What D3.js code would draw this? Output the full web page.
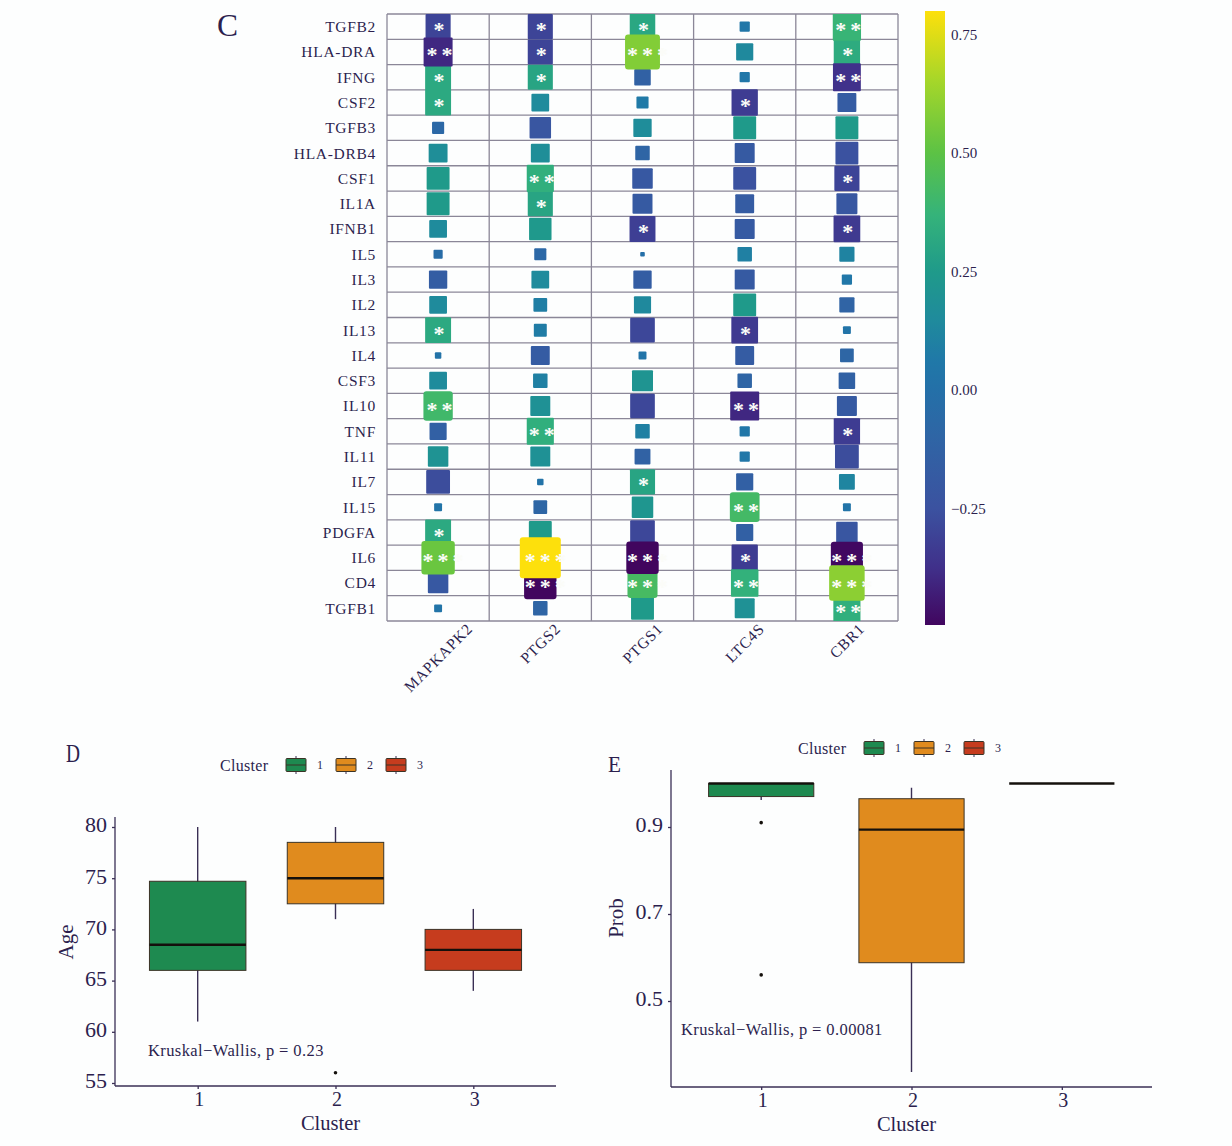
<!DOCTYPE html>
<html>
<head>
<meta charset="utf-8">
<script src="https://cdn.jsdelivr.net/npm/d3@7"></script>
<style>
  html, body { margin: 0; padding: 0; background: #fdfefe; }
  svg { display: block; }
  text { font-family: "Liberation Serif", serif; fill: #2c1f4e; }
</style>
</head>
<body>
<div id="chart"></div>
<script>
// heatmap data, rows top to bottom
var genes = ["TGFB2", "HLA-DRA", "IFNG", "CSF2", "TGFB3", "HLA-DRB4", "CSF1", "IL1A", "IFNB1", "IL5", "IL3", "IL2",
    "IL13", "IL4", "CSF3", "IL10", "TNF", "IL11", "IL7", "IL15", "PDGFA", "IL6", "CD4", "TGFB1"];
var targets = ["MAPKAPK2", "PTGS2", "PTGS1", "LTC4S", "CBR1"];

var corrMapkapk2 = [-0.30, -0.40, 0.32, 0.32, -0.07, 0.17, 0.25, 0.25, 0.15, -0.04, -0.16, 0.15, 0.32, 0.02, 0.15, 0.41, -0.14, 0.20, -0.27, 0.03, 0.32, 0.53, -0.20, 0.03];
var corrPtgs2 = [-0.30, -0.30, 0.30, 0.15, -0.22, 0.17, 0.35, 0.30, 0.24, -0.07, 0.15, 0.09, 0.08, -0.17, 0.10, 0.19, 0.35, 0.19, 0.02, -0.09, 0.25, 0.80, -0.50, -0.10];
var corrPtgs1 = [0.31, 0.58, -0.13, 0.07, 0.16, -0.10, -0.20, -0.19, -0.32, -0.01, -0.16, 0.14, -0.29, 0.03, 0.21, -0.29, 0.10, -0.12, 0.30, 0.22, -0.29, -0.50, 0.43, 0.25];
var corrLtc4s = [0.05, 0.14, 0.05, -0.33, 0.25, -0.19, -0.25, -0.17, -0.19, 0.10, -0.19, 0.25, -0.34, -0.17, -0.10, -0.40, 0.05, 0.05, -0.14, 0.42, -0.14, -0.33, 0.36, 0.19];
var corrCbr1 = [0.38, 0.33, -0.37, -0.17, 0.25, -0.25, -0.30, -0.21, -0.34, 0.11, 0.05, -0.11, 0.03, -0.09, -0.13, -0.19, -0.33, -0.27, 0.12, 0.03, -0.22, -0.49, 0.60, 0.35];

// number of significance stars for each cell
var starsMapkapk2 = [1, 2, 1, 1, 0, 0, 0, 0, 0, 0, 0, 0, 1, 0, 0, 2, 0, 0, 0, 0, 1, 3, 0, 0];
var starsPtgs2 = [1, 1, 1, 0, 0, 0, 2, 1, 0, 0, 0, 0, 0, 0, 0, 0, 2, 0, 0, 0, 0, 3, 3, 0];
var starsPtgs1 = [1, 3, 0, 0, 0, 0, 0, 0, 1, 0, 0, 0, 0, 0, 0, 0, 0, 0, 1, 0, 0, 3, 3, 0];
var starsLtc4s = [0, 0, 0, 1, 0, 0, 0, 0, 0, 0, 0, 0, 1, 0, 0, 2, 0, 0, 0, 2, 0, 1, 2, 0];
var starsCbr1 = [2, 1, 2, 0, 0, 0, 1, 0, 1, 0, 0, 0, 0, 0, 0, 0, 1, 0, 0, 0, 0, 3, 3, 2];

var corrColumns = [corrMapkapk2, corrPtgs2, corrPtgs1, corrLtc4s, corrCbr1];
var starColumns = [starsMapkapk2, starsPtgs2, starsPtgs1, starsLtc4s, starsCbr1];

// colour bar
var colorValues = [-0.496, -0.375, -0.25, -0.1, 0, 0.06, 0.15, 0.25, 0.37, 0.5, 0.65, 0.8];
var colorStops = ["#41065f", "#40308a", "#3b52a0", "#2f65a5", "#2470a8", "#2078a8", "#1f8b9c", "#1f9a8a", "#35b37a", "#5cc245", "#a4d62a", "#fde00c"];
var colorTicks = [-0.25, 0, 0.25, 0.5, 0.75];

// box plots
var clusters = [1, 2, 3];
var clusterColors = ["#1e8a50", "#e08b1e", "#c63c1e"];

var ageLow = [61, 71, 64];
var ageQ1 = [66, 72.5, 66];
var ageMedian = [68.5, 75, 68];
var ageQ3 = [74.7, 78.5, 70];
var ageHigh = [80, 80, 72];
var ageOutliers = [[], [56], []];
var ageTicks = [55, 60, 65, 70, 75, 80];

var probLow = [0.962, 0.337, 1];
var probQ1 = [0.97, 0.588, 1];
var probMedian = [1, 0.894, 1];
var probQ3 = [1, 0.965, 1];
var probHigh = [1, 0.99, 1];
var probOutliers = [[0.91, 0.56], [], []];
var probTicks = [0.5, 0.7, 0.9];

var svg = d3.select("#chart").append("svg")
    .attr("width", 1232)
    .attr("height", 1146);

var ink = "#3a2f55";

function panelLabel(label, x, y, size, width) {
    svg.append("text").attr("x", x).attr("y", y)
        .attr("textLength", width)
        .attr("lengthAdjust", "spacingAndGlyphs")
        .style("font-size", size + "px")
        .text(label);
}

// ---- heatmap ----
function drawHeatmap() {
    var left = 387, right = 898, top = 14, bottom = 621;

    var x = d3.scaleBand().domain(targets).range([left, right]);
    var y = d3.scaleBand().domain(genes).range([top, bottom]);
    var color = d3.scaleLinear().domain(colorValues).range(colorStops);
    var side = d3.scaleSqrt().domain([0, 0.8]).range([0, 41]);

    var g = svg.append("g");

    svg.append("clipPath").attr("id", "panel-clip")
        .append("rect")
        .attr("x", left).attr("y", top)
        .attr("width", right - left).attr("height", bottom - top);

    // grid lines sit on the cell borders
    g.selectAll(".hline")
        .data(d3.range(genes.length + 1))
        .enter().append("line")
        .attr("x1", left).attr("x2", right)
        .attr("y1", function(d) { return top + d * y.step(); })
        .attr("y2", function(d) { return top + d * y.step(); })
        .attr("stroke", "#8b8798").attr("stroke-width", 1.3);
    g.selectAll(".vline")
        .data(d3.range(targets.length + 1))
        .enter().append("line")
        .attr("y1", top).attr("y2", bottom)
        .attr("x1", function(d) { return left + d * x.step(); })
        .attr("x2", function(d) { return left + d * x.step(); })
        .attr("stroke", "#8b8798").attr("stroke-width", 1.3);

    var cells = [];
    targets.forEach(function(t, i) {
        genes.forEach(function(gene, j) {
            cells.push({target: t, gene: gene, r: corrColumns[i][j], stars: starColumns[i][j]});
        });
    });
    // big squares end up on top of their neighbours
    cells.sort(function(a, b) { return Math.abs(a.r) - Math.abs(b.r); });

    var marks = g.append("g").attr("clip-path", "url(#panel-clip)");
    marks.selectAll("rect")
        .data(cells)
        .enter().append("rect")
        .attr("x", function(d) { return x(d.target) + x.bandwidth() / 2 - side(Math.abs(d.r)) / 2; })
        .attr("y", function(d) { return y(d.gene) + y.bandwidth() / 2 - side(Math.abs(d.r)) / 2; })
        .attr("width", function(d) { return side(Math.abs(d.r)); })
        .attr("height", function(d) { return side(Math.abs(d.r)); })
        .attr("rx", function(d) { return Math.abs(d.r) > 0.4 ? 3 : 1; })
        .attr("fill", function(d) { return color(d.r); });

    // stars are near-white, so the part past the square just disappears
    var starStart = {1: -4.6, 2: -11.6, 3: -15.6};
    g.selectAll(".star")
        .data(cells.filter(function(d) { return d.stars > 0; }))
        .enter().append("text")
        .attr("class", "star")
        .attr("x", function(d) { return x(d.target) + x.bandwidth() / 2 + starStart[d.stars]; })
        .attr("y", function(d) { return y(d.gene) + y.bandwidth() / 2 + 10.5; })
        .style("font-size", "22px")
        .style("font-weight", "bold")
        .style("letter-spacing", "4px")
        .style("fill", "#fbfcf8")
        .text(function(d) { return "*".repeat(d.stars); });

    g.selectAll(".gene")
        .data(genes)
        .enter().append("text")
        .attr("x", 376)
        .attr("y", function(d) { return y(d) + y.bandwidth() / 2; })
        .attr("dy", "0.35em")
        .attr("text-anchor", "end")
        .style("font-size", "15.5px")
        .style("letter-spacing", "0.7px")
        .text(function(d) { return d; });

    // labels rotated about their middle, hanging from the same top edge
    g.selectAll(".target")
        .data(targets)
        .enter().append("text")
        .attr("text-anchor", "middle")
        .style("font-size", "15.5px")
        .style("letter-spacing", "0.7px")
        .text(function(d) { return d; })
        .attr("transform", function(d) {
            var half = this.getComputedTextLength() / 2 * Math.SQRT1_2;
            return "translate(" + (x(d) + x.bandwidth() / 2) + "," + (626 + half) + ") rotate(-45)";
        })
        .attr("dy", "0.35em");

    // colour bar
    var barY = d3.scaleLinear().domain([colorValues[0], colorValues[colorValues.length - 1]]).range([625, 11]);
    var gradient = svg.append("defs").append("linearGradient")
        .attr("id", "bar-fill")
        .attr("x1", 0).attr("x2", 0).attr("y1", 1).attr("y2", 0);
    gradient.selectAll("stop")
        .data(colorValues)
        .enter().append("stop")
        .attr("offset", function(d) { return (d - colorValues[0]) / (colorValues[colorValues.length - 1] - colorValues[0]); })
        .attr("stop-color", function(d) { return color(d); });
    svg.append("rect")
        .attr("x", 925).attr("y", 11)
        .attr("width", 20).attr("height", 614)
        .attr("fill", "url(#bar-fill)");

    var barAxis = svg.append("g")
        .attr("transform", "translate(945,0)")
        .call(d3.axisRight(barY).tickValues(colorTicks).tickSize(0).tickPadding(6)
            .tickFormat(function(d) { return d3.format(".2f")(d).replace("-", "\u2212"); }));
    barAxis.select(".domain").remove();
    barAxis.selectAll("text")
        .style("font-size", "15px")
        .style("font-family", "'Liberation Serif', serif");
}

// ---- box plot panels ----
function drawBoxPanel(opt) {
    var x = d3.scalePoint().domain(clusters).range([opt.left, opt.right]).padding(0.6);
    var y = d3.scaleLinear().domain(opt.domain).range(opt.range);
    var boxWidth = x.step() * 0.7;

    var g = svg.append("g");

    var rows = clusters.map(function(c, i) {
        return {cluster: c, color: clusterColors[i], low: opt.low[i], q1: opt.q1[i], median: opt.median[i],
            q3: opt.q3[i], high: opt.high[i], outliers: opt.outliers[i]};
    });

    var boxes = g.selectAll(".box").data(rows).enter().append("g");

    boxes.append("line")
        .attr("x1", function(d) { return x(d.cluster); })
        .attr("x2", function(d) { return x(d.cluster); })
        .attr("y1", function(d) { return y(d.low); })
        .attr("y2", function(d) { return y(d.high); })
        .attr("stroke", ink).attr("stroke-width", 1.4);
    boxes.append("rect")
        .attr("x", function(d) { return x(d.cluster) - boxWidth / 2; })
        .attr("width", boxWidth)
        .attr("y", function(d) { return y(d.q3); })
        .attr("height", function(d) { return y(d.q1) - y(d.q3); })
        .attr("fill", function(d) { return d.color; })
        .attr("stroke", "#3b3326").attr("stroke-width", 1);
    boxes.append("line")
        .attr("x1", function(d) { return x(d.cluster) - boxWidth / 2; })
        .attr("x2", function(d) { return x(d.cluster) + boxWidth / 2; })
        .attr("y1", function(d) { return y(d.median); })
        .attr("y2", function(d) { return y(d.median); })
        .attr("stroke", "#14100c").attr("stroke-width", 2.4);
    boxes.selectAll("circle")
        .data(function(d) { return d.outliers.map(function(v) { return {cluster: d.cluster, value: v}; }); })
        .enter().append("circle")
        .attr("cx", function(d) { return x(d.cluster); })
        .attr("cy", function(d) { return y(d.value); })
        .attr("r", 1.8)
        .attr("fill", "#14100c");

    var yAxis = g.append("g")
        .attr("transform", "translate(" + opt.left + ",0)")
        .call(d3.axisLeft(y).tickValues(opt.ticks).tickSize(3).tickPadding(5).tickFormat(opt.format));
    yAxis.select(".domain").attr("d", "M0," + opt.axisTop + "V" + opt.axisBottom);

    var xScaleAxis = g.append("g")
        .attr("transform", "translate(0," + opt.axisBottom + ")")
        .call(d3.axisBottom(x).tickSize(3).tickPadding(3));
    xScaleAxis.select(".domain").attr("d", "M" + opt.left + ",0H" + opt.right);

    g.selectAll(".domain, .tick line").attr("stroke", ink).attr("stroke-width", 1.3);
    yAxis.selectAll("text").attr("dy", "0.22em").style("font-size", "22px").style("font-family", "'Liberation Serif', serif");
    xScaleAxis.selectAll("text").attr("dx", 1).style("font-size", "20px").style("font-family", "'Liberation Serif', serif");

    g.append("text")
        .attr("x", (opt.left + opt.right) / 2 - 5).attr("y", opt.axisBottom + 44)
        .attr("text-anchor", "middle")
        .style("font-size", "20.5px")
        .text("Cluster");

    g.append("text")
        .attr("transform", "translate(" + opt.titleX + "," + opt.titleY + ") rotate(-90)")
        .attr("text-anchor", "middle")
        .style("font-size", "21px")
        .text(opt.title);

    g.append("text")
        .attr("x", opt.noteX).attr("y", opt.noteY)
        .style("font-size", "16.5px")
        .style("letter-spacing", "0.4px")
        .text(opt.note);

    // legend
    var legend = svg.append("g").attr("transform", "translate(" + opt.legendX + "," + opt.legendY + ")");
    legend.append("text")
        .attr("x", 0).attr("y", 0).attr("dy", "0.35em")
        .style("font-size", "16px")
        .style("letter-spacing", "0.3px")
        .text("Cluster");
    var keyX = d3.scalePoint().domain(clusters).range([0, 100]);
    var keys = legend.selectAll(".key")
        .data(rows)
        .enter().append("g")
        .attr("transform", function(d) { return "translate(" + (66 + keyX(d.cluster)) + ",0)"; });
    keys.append("line")
        .attr("x1", 10).attr("x2", 10).attr("y1", -9).attr("y2", 9)
        .attr("stroke", ink).attr("stroke-width", 1);
    keys.append("rect")
        .attr("x", 0).attr("y", -6.5).attr("width", 20).attr("height", 13)
        .attr("rx", 1)
        .attr("fill", function(d) { return d.color; })
        .attr("stroke", "#3b3326").attr("stroke-width", 1);
    keys.append("line")
        .attr("x1", 0).attr("x2", 20).attr("y1", 0).attr("y2", 0)
        .attr("stroke", "#3b3326").attr("stroke-width", 1);
    keys.append("text")
        .attr("x", 34).attr("dy", "0.35em")
        .attr("text-anchor", "middle")
        .style("font-size", "12px")
        .text(function(d) { return d.cluster; });
}

panelLabel("C", 217, 36, 32, 21);
panelLabel("D", 66, 762, 26, 14);
panelLabel("E", 608, 772, 24, 13);

drawHeatmap();

drawBoxPanel({
    left: 115, right: 556, axisTop: 817, axisBottom: 1086,
    domain: [55, 80], range: [1083, 827], ticks: ageTicks, format: d3.format("d"),
    low: ageLow, q1: ageQ1, median: ageMedian, q3: ageQ3, high: ageHigh, outliers: ageOutliers,
    title: "Age", titleX: 73, titleY: 942,
    note: "Kruskal\u2212Wallis, p = 0.23", noteX: 148, noteY: 1056,
    legendX: 220, legendY: 765
});

drawBoxPanel({
    left: 671, right: 1152, axisTop: 770, axisBottom: 1087,
    domain: [0.5, 0.9], range: [1001, 827], ticks: probTicks, format: d3.format(".1f"),
    low: probLow, q1: probQ1, median: probMedian, q3: probQ3, high: probHigh, outliers: probOutliers,
    title: "Prob", titleX: 623, titleY: 918,
    note: "Kruskal\u2212Wallis, p = 0.00081", noteX: 681, noteY: 1035,
    legendX: 798, legendY: 748
});
</script>
</body>
</html>
